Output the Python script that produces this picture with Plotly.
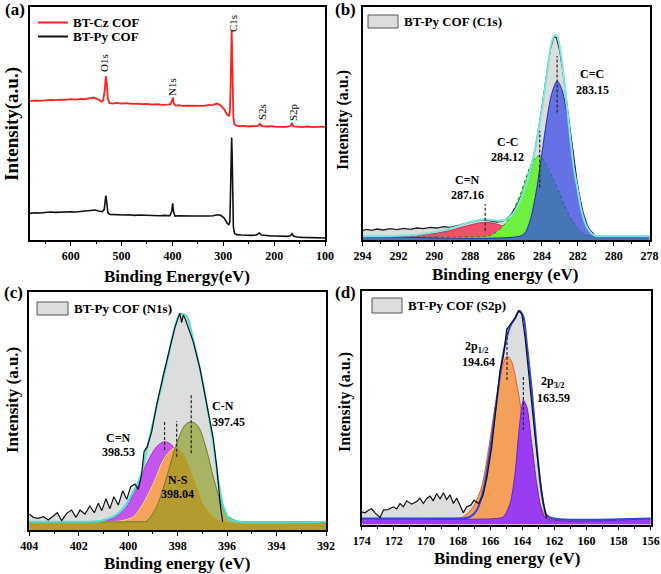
import plotly.graph_objects as go

# ---------------- DATA ----------------
# (a) survey spectra: (binding energy eV, intensity a.u.)
a_cz = [(680,417),(670,419),(660,418),(650,420),(640,421),(630,420),(620,422),(610,421),(600,423),(590,422),
        (580,424),(570,423),(560,426),(555,428),(550,425),(545,422),(540,416),(536,420),(533,450),(531,492),
        (529,470),(527,425),(524,412),(518,410),(510,412),(500,410),(490,411),(480,409),(470,410),(460,408),
        (450,409),(440,407),(430,408),(420,406),(410,407),(404,408),(401,418),(399,428),(397,410),(394,404),
        (388,405),(380,403),(370,404),(360,403),(350,404),(340,403),(330,405),(320,406),(312,410),(305,404),
        (298,392),(293,378),(289,372),(287,385),(285.5,470),(284.5,600),(283.5,630),(282.5,560),(281.5,420),
        (280.2,370),(278,348),(275,344),(270,342),(260,343),(250,341),(240,342),(232,343),(228,349),(224,342),
        (215,341),(205,342),(195,340),(185,341),(175,340),(168,343),(165,350),(162,341),(155,340),(145,339),
        (135,341),(125,339),(115,340),(105,339),(100,340)]
a_py = [(680,80),(670,82),(660,81),(650,83),(640,84),(630,83),(620,84),(610,83),(600,85),(590,84),(580,86),
        (570,87),(560,89),(552,90),(545,87),(538,85),(534,92),(532,118),(531,133),(529,112),(527,82),(523,77),
        (515,76),(505,77),(495,75),(485,76),(475,74),(465,75),(455,74),(445,73),(435,74),(425,73),(415,74),
        (405,73),(401,88),(399.5,110),(398,86),(395,72),(388,73),(378,72),(368,71),(358,72),(348,72),(338,71),
        (328,72),(320,73),(312,76),(305,74),(298,66),(293,52),(289,45),(287,55),(285.5,160),(284.5,280),
        (283.5,308),(282.5,250),(281.5,110),(280.2,40),(278,20),(274,16),(265,15),(255,14),(245,14),(235,15),
        (229,21),(225,15),(215,13),(205,12),(195,12),(185,11),(175,11),(168,13),(165,19),(162,12),(155,9),
        (145,8),(135,8),(125,8),(115,7),(105,7),(100,6)]
a_series = ["BT-Cz COF", "BT-Py COF"]
a_peaks = ["O1s", "N1s", "C1s", "S2s", "S2p"]

# (b) C1s
b_raw = [(294.0,28),(293.76,32),(293.48,29),(293.2,33),(292.83,30),(292.46,34),(292.08,31),(291.71,35),
         (291.34,32),(290.97,36),(290.6,34),(290.22,38),(289.85,36),(289.48,40),(289.1,38),(288.73,43),
         (288.36,48),(287.99,54),(287.62,58),(287.25,61),(286.87,58),(286.5,54),(286.13,58),(285.76,73),
         (285.39,103),(285.01,148),(284.64,208),(284.36,278),(284.08,368),(283.8,478),(283.53,573),
         (283.34,610),(283.19,608),(283.0,568),(282.78,488),(282.56,388),(282.32,278),(282.04,168),
         (281.76,88),(281.48,38),(281.11,18)]
b_env = [(294,12),(292,13),(291,16),(290,24),(289,36),(288.5,45),(288,54),(287.5,60),(287.2,62),(286.8,60),
         (286.4,58),(286,62),(285.6,80),(285.2,120),(284.8,180),(284.4,268),(284,390),(283.7,505),(283.5,585),
         (283.3,615),(283.15,612),(283,580),(282.8,500),(282.6,400),(282.4,300),(282.2,210),(282,150),
         (281.8,90),(281.5,40),(281.2,18),(281,13),(280,12),(278,12)]
b_cn = [(294,12),(292,12),(291,14),(290,20),(289,30),(288.5,38),(288,45),(287.5,51),(287.16,53),(286.8,51),
        (286.4,46),(286,38),(285.5,28),(285,20),(284.5,15),(284,13),(283,12),(278,12)]
b_cc1 = [(294,12),(287,12),(286.7,18),(286.2,40),(285.8,68),(285.5,100),(285.2,138),(284.9,185),(284.6,228),
         (284.3,250),(284.12,253),(283.9,240),(283.6,210),(283.3,175),(283.0,140),(282.6,88),(282.3,58),
         (282.0,35),(281.7,20),(281.4,13),(281,12),(278,12)]
b_cc2 = [(294,12),(285.2,12),(284.9,25),(284.6,70),(284.3,150),(284.0,260),(283.7,370),(283.45,440),
         (283.15,478),(282.9,455),(282.6,380),(282.3,280),(282.0,165),(281.7,85),(281.4,38),(281.1,16),
         (280.8,12),(278,12)]
b_names = ["C=N", "C-C", "C=C"]
b_centers = [287.16, 284.12, 283.15]

# (c) N1s
c_raw = [(404.0,48),(403.84,38),(403.64,35),(403.43,40),(403.23,30),(403.03,42),(402.87,52),(402.69,28),
         (402.49,50),(402.29,60),(402.11,38),(401.95,60),(401.75,48),(401.55,72),(401.37,52),(401.21,80),
         (401.07,58),(400.9,94),(400.74,64),(400.58,100),(400.4,75),(400.22,118),(400.06,92),(399.9,130),
         (399.73,138),(399.59,122),(399.46,165),(399.36,235),(399.23,250),(399.05,295),(398.85,375),
         (398.58,465),(398.31,550),(398.11,608),(397.97,638),(397.91,650),(397.84,622),(397.77,645),
         (397.69,632),(397.57,608),(397.37,565),(397.1,485),(396.83,385),(396.56,275),(396.42,190),
         (396.34,120),(396.26,65),(396.18,25)]
c_env = [(404,25),(401.5,25),(401.14,27),(400.6,40),(400.33,55),(400.06,80),(399.5,160),(399.25,240),
         (398.85,370),(398.44,500),(398.18,590),(397.91,648),(397.64,642),(397.37,570),(397.1,485),
         (396.83,380),(396.56,260),(396.36,150),(396.15,70),(395.88,32),(395.48,25),(392,25)]
c_cn = [(404,25),(401.6,25),(401.14,27),(400.6,35),(400.06,70),(399.66,130),(399.25,200),(398.85,250),
        (398.54,265),(398.24,255),(397.91,210),(397.5,130),(397.1,70),(396.69,35),(396.29,25),(392,25)]
c_ns = [(404,25),(400.8,25),(400.33,27),(399.79,40),(399.39,80),(398.98,140),(398.58,210),(398.24,242),
        (398.04,247),(397.77,230),(397.37,160),(396.96,80),(396.56,40),(396.02,25),(392,25)]
c_cnn = [(404,25),(399.7,25),(399.25,27),(398.85,70),(398.44,160),(398.04,260),(397.7,315),(397.45,325),
         (397.16,310),(396.83,240),(396.56,160),(396.29,90),(396.02,45),(395.61,27),(395.2,25),(392,25)]
c_names = ["C=N", "N-S", "C-N"]
c_centers = [398.53, 398.04, 397.45]

# (d) S2p
d_raw = [(174.0,38),(173.79,35),(173.58,43),(173.38,47),(173.17,35),(172.86,21),(172.65,43),(172.34,45),
         (172.03,53),(171.82,47),(171.61,63),(171.4,53),(171.2,71),(170.89,61),(170.57,69),(170.37,79),
         (170.16,63),(169.95,78),(169.74,85),(169.54,71),(169.33,93),(169.12,77),(168.91,95),(168.71,75),
         (168.5,89),(168.29,63),(168.08,79),(167.88,58),(167.67,35),(167.46,53),(167.21,58),(167.0,73),
         (166.73,63),(166.46,85),(166.21,138),(165.9,233),(165.59,373),(165.38,463),(165.18,503),
         (164.97,585),(164.66,605),(164.45,618),(164.24,641),(164.03,631),(163.83,563),(163.52,413),
         (163.2,263),(162.89,133),(162.68,63),(162.48,18)]
d_env = [(174,18),(168,18),(167.67,18),(167.25,23),(166.84,43),(166.42,103),(166.0,223),(165.59,373),
         (165.18,513),(164.76,593),(164.45,618),(164.18,641),(163.93,623),(163.72,543),(163.41,403),
         (163.1,233),(162.79,93),(162.48,28),(162.06,18),(156,18)]
d_p12 = [(174,18),(168.29,18),(167.67,23),(167.05,53),(166.53,113),(166.11,223),(165.7,353),(165.38,443),
         (165.07,498),(164.93,505),(164.66,488),(164.35,423),(163.93,303),(163.52,183),(163.1,93),
         (162.69,38),(162.27,18),(156,18)]
d_p32 = [(174,18),(165.59,18),(165.18,23),(164.76,63),(164.45,153),(164.24,263),(164.03,353),(163.93,373),
         (163.72,353),(163.41,243),(163.1,123),(162.79,43),(162.48,18),(156,18)]
d_names = ["2p<sub>1/2</sub>", "2p<sub>3/2</sub>"]
d_values = ["194.64", "163.59"]
d_centers = [164.95, 163.93]

legend_b = "BT-Py COF (C1s)"
legend_c = "BT-Py COF (N1s)"
legend_d = "BT-Py COF (S2p)"

# ---------------- FIGURE ----------------
W, H = 661, 574
FONT = "Liberation Serif"
GRAY = "#dcdedd"


def xy(pairs):
    return [p[0] for p in pairs], [p[1] for p in pairs]


def P(px, py):
    return px / W, 1 - py / H


fig = go.Figure()


def line(pairs, ax, color, width=1.2, shape="linear", dash="solid"):
    x, y = xy(pairs)
    fig.add_trace(go.Scatter(x=x, y=y, mode="lines", xaxis="x" + ax, yaxis="y" + ax,
                             line=dict(color=color, width=width, shape=shape, dash=dash,
                                       smoothing=0.8), showlegend=False, hoverinfo="skip"))


def area(pairs, ax, fill, lcolor=None, lwidth=0, shape="spline", dash="solid"):
    x, y = xy(pairs)
    fig.add_trace(go.Scatter(x=x, y=y, mode="lines", xaxis="x" + ax, yaxis="y" + ax, fill="tozeroy",
                             fillcolor=fill,
                             line=dict(color=lcolor or fill, width=lwidth, shape=shape, dash=dash,
                                       smoothing=0.8), showlegend=False, hoverinfo="skip"))


# (a)
line(a_cz, "", "#ff2020", 1.8)
line(a_py, "", "#111111", 1.6)

# (b)
area(b_env, "2", GRAY)
area(b_raw, "2", GRAY, shape="linear")
area(b_cn, "2", "#f0506e", "#c83050", 1)
area(b_cc1, "2", "#6ef040", "#2e7d2e", 1, dash="dot")
area(b_cc2, "2", "rgba(55,70,230,0.72)", "#2030a0", 1)
line(b_raw, "2", "#222222", 1.3)
line(b_env, "2", "#7ae8e0", 2, "spline")

# (c)
area(c_env, "3", GRAY)
area(c_raw, "3", GRAY, shape="linear")
area(c_cn, "3", "#c455ee", "#a030d0", 1)
area(c_ns, "3", "#f5a35a", "#f0e070", 1)
area(c_cnn, "3", "rgba(135,150,20,0.6)", "#707a20", 1)
line(c_env, "3", "#48e0d8", 2, "spline")
line(c_raw, "3", "#111111", 1.2)

# (d)
area(d_env, "4", GRAY)
area(d_raw, "4", GRAY, shape="linear")
area(d_p12, "4", "#f5a05a", "#e05a3a", 1)
area(d_p32, "4", "#9a3cf2", "#7020c0", 1)
line(d_env, "4", "#2a46e0", 2, "spline")
line(d_raw, "4", "#111111", 1.2)

# axes
def xax(dom, rng, dtick, mdtick, anchor):
    return dict(domain=dom, range=rng, anchor=anchor, showline=True, mirror=True, linecolor="black",
                linewidth=1.5, ticks="outside", ticklen=4, tickwidth=1.3, tickcolor="black",
                dtick=dtick, tick0=0,
                minor=dict(ticks="outside", ticklen=2.5, dtick=mdtick, tickcolor="black", tickwidth=1),
                tickfont=dict(family=FONT, size=12, color="black", weight="bold"),
                showgrid=False, zeroline=False, automargin=False)


def yax(dom, rng, anchor):
    return dict(domain=dom, range=rng, anchor=anchor, showline=True, mirror=True, linecolor="black",
                linewidth=1.5, ticks="", showticklabels=False, showgrid=False, zeroline=False,
                automargin=False)


dom_a = ([30 / W, 325 / W], [1 - 240 / H, 1 - 7 / H])
dom_b = ([362.5 / W, 649.5 / W], [1 - 240 / H, 1 - 7 / H])
dom_c = ([29.3 / W, 326 / W], [1 - 530 / H, 1 - 292 / H])
dom_d = ([361.7 / W, 650.7 / W], [1 - 524.5 / H, 1 - 291 / H])

fig.update_layout(
    width=W, height=H, margin=dict(l=0, r=0, t=0, b=0),
    paper_bgcolor="white", plot_bgcolor="white", showlegend=False,
    xaxis=xax(dom_a[0], [680, 100], 100, 50, "y"),
    yaxis=yax(dom_a[1], [0, 700], "x"),
    xaxis2=xax(dom_b[0], [294, 278], 2, 1, "y2"),
    yaxis2=yax(dom_b[1], [0, 700], "x2"),
    xaxis3=xax(dom_c[0], [404, 392], 2, 1, "y3"),
    yaxis3=yax(dom_c[1], [0, 714], "x3"),
    xaxis4=xax(dom_d[0], [174, 156], 2, 1, "y4"),
    yaxis4=yax(dom_d[1], [0, 700], "x4"),
)

ann = []
shapes = []


def text(s, px, py, size=12, bold=True, angle=0, xanchor="center", color="black"):
    x, y = P(px, py)
    ann.append(dict(text=s, x=x, y=y, xref="paper", yref="paper", showarrow=False, xanchor=xanchor,
                    yanchor="middle", textangle=angle,
                    font=dict(family=FONT, size=size, color=color, weight="bold" if bold else "normal")))


# panel letters
for s, (px, py) in zip(["(a)", "(b)", "(c)", "(d)"], [(15, 10), (345, 10), (13, 292), (345, 292)]):
    text(s, px, py, 17)

# axis titles
text("Binding Energy(eV)", 177, 276, 17)
text("Intensity(a.u.)", 12, 124, 19, angle=-90)
text("Binding energy (eV)", 505, 274, 17)
text("Intensity (a.u.)", 343, 120, 16, angle=-90)
text("Binding energy (eV)", 177, 563, 17)
text("Intensity (a.u.)", 12, 400, 17, angle=-90)
text("Binding energy (eV)", 507, 558, 17)
text("Intensity (a.u.)", 345, 402, 16, angle=-90)

# (a) legend + peak labels
for s, c, py in zip(a_series, ["#ff2020", "#111111"], [22.5, 36.5]):
    x0, y0 = P(38, py)
    x1, _ = P(68, py)
    shapes.append(dict(type="line", xref="paper", yref="paper", x0=x0, x1=x1, y0=y0, y1=y0,
                       line=dict(color=c, width=2)))
    text(s, 71, py, 13, xanchor="left")
for s, (px, py) in zip(a_peaks, [(104, 63), (172, 87), (233, 24), (262, 112), (293, 112)]):
    text(s, px, py, 11, bold=False, angle=-90)

# legend boxes for (b), (c), (d)
for s, (x0p, y0p, x1p, y1p) in zip([legend_b, legend_c, legend_d],
                                   [(368, 15, 398, 28), (37, 302, 68, 315), (372, 298, 402, 313)]):
    x0, y0 = P(x0p, y0p)
    x1, y1 = P(x1p, y1p)
    shapes.append(dict(type="rect", xref="paper", yref="paper", x0=x0, x1=x1, y0=y1, y1=y0,
                       fillcolor=GRAY, line=dict(color="#555555", width=1)))
    text(s, x1p + 4, (y0p + y1p) / 2, 13, xanchor="left")

# (b) peak labels
for nm, c, (pn, pv) in zip(b_names, b_centers, [((467, 180), (467, 195)), ((507, 142), (507, 157)),
                                               ((592, 74), (592, 90))]):
    text(nm, *pn, 12)
    text(f"{c:.2f}", *pv, 12)
# (c) peak labels
for nm, c, (pn, pv) in zip(c_names, c_centers, [((118, 438), (118, 452)), ((178, 480), (177, 494)),
                                               ((223, 406), (228, 422))]):
    text(nm, *pn, 12)
    text(f"{c:.2f}", *pv, 12)
# (d) peak labels
for nm, v, (pn, pv) in zip(d_names, d_values, [((477, 347), (478, 362)), ((552, 382), (553, 398))]):
    text(nm, *pn, 12)
    text(v, *pv, 12)

# dashed center markers
for ax, centers, spans in [("2", b_centers, [(28, 108), (158, 328), (383, 553)]),
                           ("3", c_centers, [(240, 325), (220, 327), (230, 405)]),
                           ("4", d_centers, [(433, 588), (283, 448)])]:
    for c, (y0, y1) in zip(centers, spans):
        shapes.append(dict(type="line", xref="x" + ax, yref="y" + ax, x0=c, x1=c, y0=y0, y1=y1,
                           line=dict(color="#222222", width=1.2, dash="3px,2px")))

fig.update_layout(annotations=ann, shapes=shapes)
fig.write_html("out.html")
